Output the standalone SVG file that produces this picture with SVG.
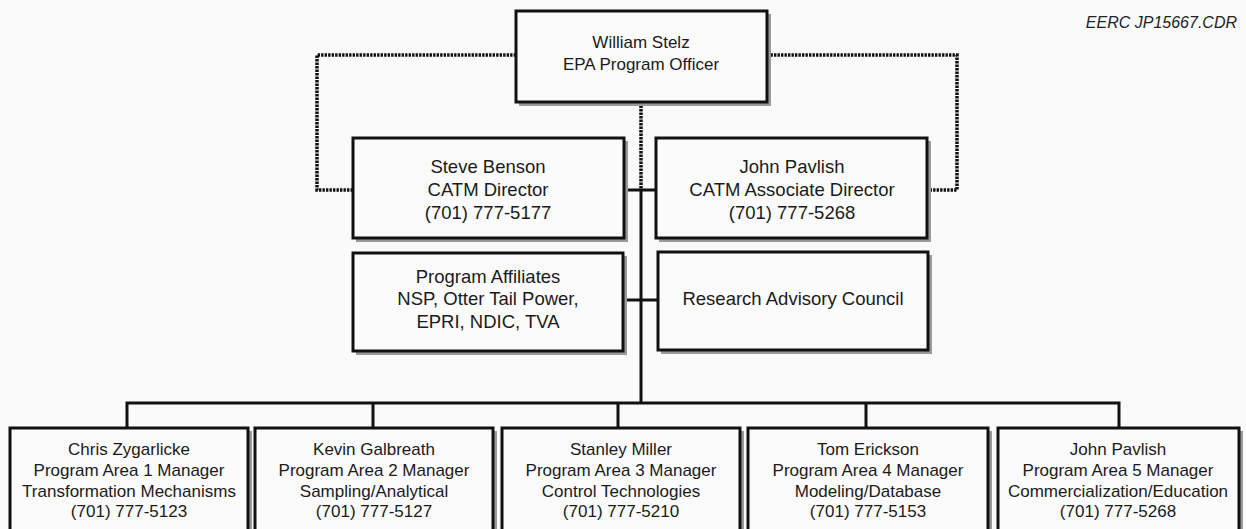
<svg xmlns="http://www.w3.org/2000/svg" width="1246" height="529" viewBox="0 0 1246 529">
<style>
.bg{fill:#fafafa}
.box{fill:#fbfbfb;stroke:#111;stroke-width:3}
.sh{fill:#9a9a9a}
.t{font-family:"Liberation Sans",Arial,sans-serif;fill:#1a1a1a;text-anchor:middle}
.s17{font-size:17px}
.s18{font-size:18.5px}
.solid{fill:none;stroke:#111;stroke-width:3}
.dot{fill:none;stroke:#111;stroke-width:3.5;stroke-dasharray:2.4 1.1}
.lbl{font-family:"Liberation Sans",Arial,sans-serif;font-style:italic;font-size:16px;fill:#222;text-anchor:end}
</style>
<rect class="bg" x="0" y="0" width="1246" height="529"/>
<text class="lbl" x="1237" y="28">EERC JP15667.CDR</text>
<g id="connectors">
<path class="dot" d="M516,55 H317 V190 H353"/>
<path class="dot" d="M767,55 H957 V190 H927"/>
<path class="dot" d="M641,102 V190"/>
<path class="solid" d="M641,190 V403"/>
<path class="solid" d="M624,190 H656"/>
<path class="solid" d="M623,300 H658"/>
<path class="solid" d="M127,428 V403 H1119 V428"/>
<path class="solid" d="M373,403 V428"/>
<path class="solid" d="M618,403 V428"/>
<path class="solid" d="M866,403 V428"/>
</g>
<g id="stelz">
<rect class="sh" x="519" y="14" width="252" height="92"/>
<rect class="box" x="516" y="11" width="251" height="91"/>
<text class="t s17" x="641" y="48">William Stelz</text>
<text class="t s17" x="641" y="70">EPA Program Officer</text>
</g>
<g id="benson">
<rect class="sh" x="356" y="141" width="272" height="101"/>
<rect class="box" x="353" y="138" width="271" height="100"/>
<text class="t s18" x="488" y="173">Steve Benson</text>
<text class="t s18" x="488" y="196">CATM Director</text>
<text class="t s18" x="488" y="219">(701) 777-5177</text>
</g>
<g id="pavlish-assoc">
<rect class="sh" x="659" y="141" width="272" height="101"/>
<rect class="box" x="656" y="138" width="271" height="100"/>
<text class="t s18" x="792" y="173">John Pavlish</text>
<text class="t s18" x="792" y="196">CATM Associate Director</text>
<text class="t s18" x="792" y="219">(701) 777-5268</text>
</g>
<g id="affiliates">
<rect class="sh" x="356" y="256" width="271" height="99"/>
<rect class="box" x="353" y="253" width="270" height="98"/>
<text class="t s18" x="488" y="283">Program Affiliates</text>
<text class="t s18" x="488" y="305">NSP, Otter Tail Power,</text>
<text class="t s18" x="488" y="328">EPRI, NDIC, TVA</text>
</g>
<g id="advisory">
<rect class="sh" x="661" y="255" width="271" height="99"/>
<rect class="box" x="658" y="252" width="270" height="98"/>
<text class="t s18" x="793" y="305">Research Advisory Council</text>
</g>
<g id="zygarlicke">
<rect class="sh" x="13" y="431" width="239" height="110"/>
<rect class="box" x="10" y="428" width="238" height="110"/>
<text class="t s17" x="129" y="455">Chris Zygarlicke</text>
<text class="t s17" x="129" y="476">Program Area 1 Manager</text>
<text class="t s17" x="129" y="497">Transformation Mechanisms</text>
<text class="t s17" x="129" y="517">(701) 777-5123</text>
</g>
<g id="galbreath">
<rect class="sh" x="258" y="431" width="239" height="110"/>
<rect class="box" x="255" y="428" width="238" height="110"/>
<text class="t s17" x="374" y="455">Kevin Galbreath</text>
<text class="t s17" x="374" y="476">Program Area 2 Manager</text>
<text class="t s17" x="374" y="497">Sampling/Analytical</text>
<text class="t s17" x="374" y="517">(701) 777-5127</text>
</g>
<g id="miller">
<rect class="sh" x="505" y="431" width="239" height="110"/>
<rect class="box" x="502" y="428" width="238" height="110"/>
<text class="t s17" x="621" y="455">Stanley Miller</text>
<text class="t s17" x="621" y="476">Program Area 3 Manager</text>
<text class="t s17" x="621" y="497">Control Technologies</text>
<text class="t s17" x="621" y="517">(701) 777-5210</text>
</g>
<g id="erickson">
<rect class="sh" x="751" y="431" width="241" height="110"/>
<rect class="box" x="748" y="428" width="240" height="110"/>
<text class="t s17" x="868" y="455">Tom Erickson</text>
<text class="t s17" x="868" y="476">Program Area 4 Manager</text>
<text class="t s17" x="868" y="497">Modeling/Database</text>
<text class="t s17" x="868" y="517">(701) 777-5153</text>
</g>
<g id="pavlish-pa5">
<rect class="sh" x="1001" y="431" width="242" height="110"/>
<rect class="box" x="998" y="428" width="241" height="110"/>
<text class="t s17" x="1118" y="455">John Pavlish</text>
<text class="t s17" x="1118" y="476">Program Area 5 Manager</text>
<text class="t s17" x="1118" y="497">Commercialization/Education</text>
<text class="t s17" x="1118" y="517">(701) 777-5268</text>
</g>
</svg>
